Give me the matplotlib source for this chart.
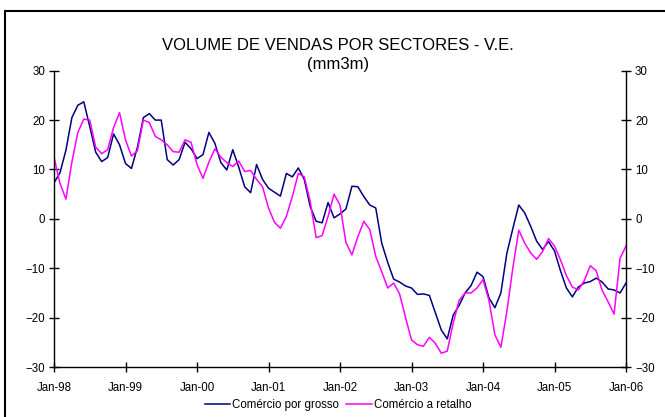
import matplotlib
matplotlib.use("Agg")
import matplotlib.pyplot as plt
from matplotlib.patches import Rectangle

plt.rcParams['font.family'] = ['Liberation Sans', 'DejaVu Sans']

tick_labels = ["Jan-98", "Jan-99", "Jan-00", "Jan-01", "Jan-02", "Jan-03", "Jan-04", "Jan-05", "Jan-06"]

grosso = [
    7.3, 9.3, 13.9, 20.5, 23.0, 23.7, 18.7, 13.5, 11.6, 12.4,
    17.2, 15.0, 11.2, 10.2, 14.5, 20.5, 21.3, 20.0, 20.0, 12.0,
    10.9, 12.0, 15.5, 14.2, 12.2, 13.0, 17.5, 15.3, 11.4, 9.9,
    14.0, 10.5, 6.5, 5.3, 11.0, 8.0, 6.2, 5.4, 4.6, 9.2,
    8.5, 10.3, 8.0, 2.5, -0.5, -0.8, 3.3, 0.2, 1.0, 2.0,
    6.6, 6.5, 4.5, 2.8, 2.2, -4.9, -8.8, -12.2, -12.8, -13.6,
    -14.0, -15.3, -15.2, -15.5, -19.0, -22.5, -24.3, -19.5, -17.5, -15.0,
    -13.5, -10.8, -11.7, -16.0, -18.0, -15.0, -7.0, -2.0, 2.8, 1.2,
    -1.5, -4.5, -6.2, -4.6, -6.5, -10.5, -14.0, -15.8, -13.8, -13.0,
    -12.7, -12.0, -12.8, -14.2, -14.4, -15.0, -13.0,
]

retalho = [
    12.5, 7.2, 4.0, 11.5, 17.5, 20.2, 20.0, 14.5, 13.2, 14.0,
    18.5, 21.5, 16.0, 12.7, 13.8, 20.0, 19.5, 16.7, 16.0, 15.0,
    13.6, 13.5, 16.0, 15.5, 11.0, 8.2, 11.5, 14.2, 12.5, 11.4,
    10.6, 11.7, 9.6, 9.8, 8.0, 6.5, 2.2, -0.7, -1.9, 0.5,
    4.5, 9.2, 8.5, 3.5, -3.8, -3.4, 0.5, 5.0, 2.8, -4.8,
    -7.3, -3.6, -0.5, -2.2, -7.6, -10.7, -14.0, -13.0, -15.2, -20.0,
    -24.5, -25.5, -25.8, -24.0, -25.2, -27.2, -26.8, -21.1, -16.5, -15.0,
    -15.0, -14.0, -12.3, -16.5, -23.5, -26.0, -18.8, -10.0, -2.3, -4.9,
    -6.9, -8.2, -6.6, -4.0, -5.5, -8.3, -11.5, -13.8, -14.4, -12.5,
    -9.5, -10.5, -14.5, -16.8, -19.3, -8.0, -5.5,
]

series_names = ["Comércio por grosso", "Comércio a retalho"]

W, H = 665, 417
fig = plt.figure(figsize=(W / 100, H / 100), dpi=100)
ax = fig.add_axes([54 / W, 1 - 367 / H, (626 - 54) / W, (367 - 70.7) / H])

x = list(range(len(grosso)))
ax.plot(x, grosso, color="#000080", lw=1.1, label=series_names[0])
ax.plot(x, retalho, color="#FF00FF", lw=1.1, label=series_names[1])

ax.set_xlim(0, 96)
ax.set_ylim(-30, 30)
ax.set_xticks(range(0, 97, 12))
ax.set_xticklabels(tick_labels, fontsize=8.3)
ax.set_yticks(range(-30, 31, 10))
ax.tick_params(axis="y", labelsize=8.3, direction="inout", length=7, width=1,
               left=True, right=True, labelleft=True, labelright=True, pad=3)
ax.tick_params(axis="x", direction="inout", length=7, width=1, pad=7)
ax.spines["top"].set_visible(False)
for s in ["left", "right", "bottom"]:
    ax.spines[s].set_linewidth(1)
    ax.spines[s].set_color("black")

fig.text(338 / W, 1 - 45 / H, "VOLUME DE VENDAS POR SECTORES - V.E.", ha="center",
         va="center", fontsize=12)
fig.text(338 / W, 1 - 64 / H, "(mm3m)", ha="center", va="center", fontsize=12)

leg = fig.legend(loc="center", bbox_to_anchor=(338 / W, 1 - 405 / H), ncol=2,
                 frameon=False, fontsize=8.3, handlelength=2.2, handletextpad=0.2,
                 columnspacing=0.6)

fig.patches.append(Rectangle((5 / W, -0.1), 1.2, 1 - 11 / H + 0.1,
                             transform=fig.transFigure, fill=False,
                             edgecolor="black", lw=1.5))

fig.savefig("out.png", dpi=100)
